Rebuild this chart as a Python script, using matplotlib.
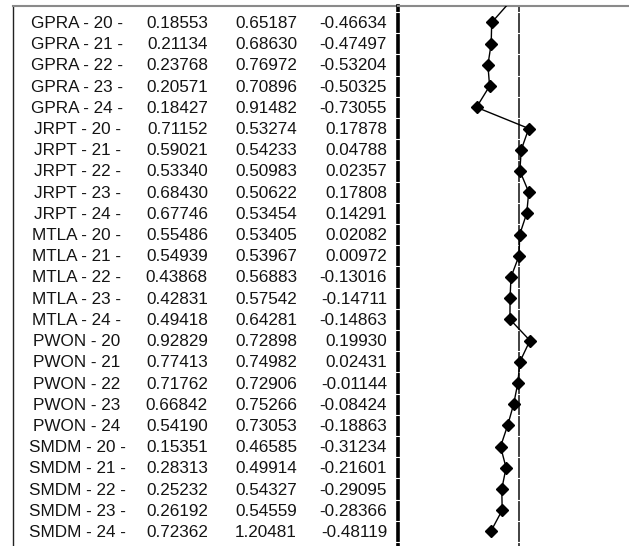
import numpy as np
import matplotlib.pyplot as plt

plt.rcParams['font.family'] = ['Liberation Sans', 'DejaVu Sans']

labels = ["GPRA - 20 -", "GPRA - 21 -", "GPRA - 22 -", "GPRA - 23 -", "GPRA - 24 -",
          "JRPT - 20 -", "JRPT - 21 -", "JRPT - 22 -", "JRPT - 23 -", "JRPT - 24 -",
          "MTLA - 20 -", "MTLA - 21 -", "MTLA - 22 -", "MTLA - 23 -", "MTLA - 24 -",
          "PWON - 20", "PWON - 21", "PWON - 22", "PWON - 23", "PWON - 24",
          "SMDM - 20 -", "SMDM - 21 -", "SMDM - 22 -", "SMDM - 23 -", "SMDM - 24 -"]
col1 = [0.18553, 0.21134, 0.23768, 0.20571, 0.18427,
        0.71152, 0.59021, 0.53340, 0.68430, 0.67746,
        0.55486, 0.54939, 0.43868, 0.42831, 0.49418,
        0.92829, 0.77413, 0.71762, 0.66842, 0.54190,
        0.15351, 0.28313, 0.25232, 0.26192, 0.72362]
col2 = [0.65187, 0.68630, 0.76972, 0.70896, 0.91482,
        0.53274, 0.54233, 0.50983, 0.50622, 0.53454,
        0.53405, 0.53967, 0.56883, 0.57542, 0.64281,
        0.72898, 0.74982, 0.72906, 0.75266, 0.73053,
        0.46585, 0.49914, 0.54327, 0.54559, 1.20481]
col3 = [-0.46634, -0.47497, -0.53204, -0.50325, -0.73055,
        0.17878, 0.04788, 0.02357, 0.17808, 0.14291,
        0.02082, 0.00972, -0.13016, -0.14711, -0.14863,
        0.19930, 0.02431, -0.01144, -0.08424, -0.18863,
        -0.31234, -0.21601, -0.29095, -0.28366, -0.48119]
# row above the visible part (cut off), estimated from the slope of the line
prev_val = -0.14

W, H = 629, 546
n = len(labels)
rows = np.arange(n)
ylim = (24.69, -0.778)

fig = plt.figure(figsize=(W / 100, H / 100), dpi=100)

# table part
axt = fig.add_axes([13 / W, 0, (398 - 13) / W, 540 / H])
axt.set_xlim(13, 398)
axt.set_ylim(*ylim)
axt.set_xticks([])
axt.set_yticks([])
for s in ['right', 'bottom']:
    axt.spines[s].set_visible(False)
axt.spines['left'].set_color('#222222')
axt.spines['left'].set_linewidth(1.0)
axt.spines['top'].set_color('#8a8a8a')
axt.spines['top'].set_linewidth(1.5)

txt = dict(fontsize=12.3, color='#141414', va='center')
for i in rows:
    axt.text(77, i + 0.05, labels[i], ha='center', **txt)
    axt.text(208, i + 0.05, f"{col1[i]:.5f}", ha='right', **txt)
    axt.text(297, i + 0.05, f"{col2[i]:.5f}", ha='right', **txt)
    axt.text(387, i + 0.05, f"{col3[i]:.5f}", ha='right', **txt)

# plot part
ax = fig.add_axes([398 / W, 0, (W - 398) / W, 540 / H])
ax.set_xlim(-2.096, 1.922)
ax.set_ylim(*ylim)
ax.set_xticks([])
ax.set_yticks([])
for s in ['right', 'bottom']:
    ax.spines[s].set_visible(False)
ax.spines['left'].set_color('black')
ax.spines['left'].set_linewidth(2.6)
ax.spines['top'].set_color('#8a8a8a')
ax.spines['top'].set_linewidth(1.5)

ax.axvline(0, color='#333333', lw=1.3, zorder=1)

xs = [prev_val] + col3
ys = [-1] + list(rows)
ax.plot(xs, ys, color='black', lw=1.0, zorder=3)
ax.plot(col3, rows, ls='none', marker='D', ms=6, color='black', zorder=4)

# small white gaps between rows on the axis line and zero line
mids = np.arange(-0.5, n, 1.0)
ax.hlines(mids, -0.02, 0.02, transform=ax.get_yaxis_transform(),
          colors='white', lw=0.8, zorder=5, clip_on=False)
ax.hlines(mids, -0.03, 0.03, colors='white', lw=0.8, zorder=2)

fig.savefig('out.png', dpi=100)
